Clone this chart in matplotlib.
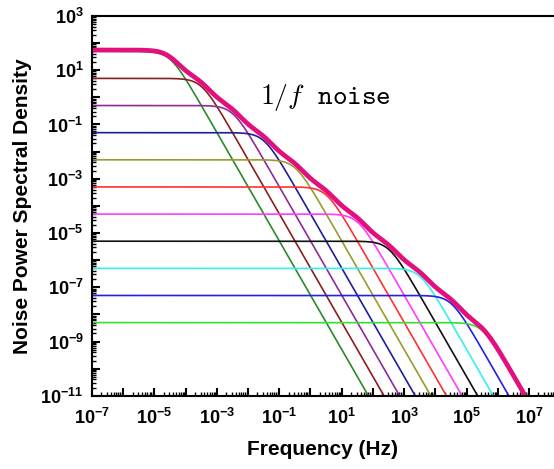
import numpy as np
import matplotlib.pyplot as plt
from matplotlib.ticker import LogLocator, FixedLocator, NullFormatter

# plateau levels and corner frequencies of each Lorentzian
levels = [50, 5, 0.5, 5e-2, 5e-3, 5e-4, 5e-5, 5e-6, 5e-7, 5e-8, 5e-9]
corners = [3.2e-5, 3.2e-4, 3.2e-3, 3.2e-2, 0.32, 3.2, 32, 320, 3.2e3, 3.2e4, 3.2e5]
colors = ['#2a8a2a', '#8b1e1e', '#8e2a9a', '#1e1e96', '#9a9a2e', '#ff3030',
          '#ff3cff', '#111111', '#33f0f0', '#2020e6', '#33e033']
sum_color = '#e2107c'

x_labels = [-7, -5, -3, -1, 1, 3, 5, 7]
y_labels = [3, 1, -1, -3, -5, -7, -9, -11]

plt.rcParams['mathtext.fontset'] = 'custom'
plt.rcParams['mathtext.rm'] = 'Liberation Sans'
plt.rcParams['mathtext.bf'] = 'Liberation Sans:bold'

fig = plt.figure(figsize=(5.54, 4.69), dpi=100)
ax = fig.add_axes([0.166, 0.156, 0.834, 0.810])

f = np.logspace(-7, 7.8, 3000)
total = np.zeros_like(f)
for a, fc, c in zip(levels, corners, colors):
    s = a / (1 + (f / fc) ** 2)
    total += s
    ax.plot(f, s, color=c, lw=1.2)
ax.plot(f, total, color=sum_color, lw=3.4, solid_capstyle='round')

ax.set_xscale('log')
ax.set_yscale('log')
ax.set_xlim(1e-7, 10 ** 7.8)
ax.set_ylim(1e-11, 1e3)

ax.xaxis.set_major_locator(FixedLocator([10.0 ** k for k in range(-7, 8)]))
ax.yaxis.set_major_locator(FixedLocator([10.0 ** k for k in range(-11, 4)]))
ax.xaxis.set_minor_locator(LogLocator(base=10, subs=np.arange(2, 10), numticks=100))
ax.yaxis.set_minor_locator(LogLocator(base=10, subs=np.arange(2, 10), numticks=100))
ax.xaxis.set_minor_formatter(NullFormatter())
ax.yaxis.set_minor_formatter(NullFormatter())

ax.set_xticklabels([r'$\mathbf{10^{%d}}$' % k if k in x_labels else '' for k in range(-7, 8)])
ax.set_yticklabels([r'$\mathbf{10^{%d}}$' % k if k in y_labels else '' for k in range(-11, 4)])

ax.tick_params(which='major', direction='in', length=6, width=1.5, labelsize=13)
ax.tick_params(axis='x', which='major', pad=9)
ax.tick_params(axis='y', which='major', pad=6)
ax.tick_params(which='minor', direction='in', length=3, width=1)
ax.tick_params(top=False, right=False)

for side in ['left', 'bottom', 'top']:
    ax.spines[side].set_linewidth(1.5)
ax.spines['right'].set_visible(False)

ax.set_xlabel('Frequency (Hz)', fontsize=15, fontweight='bold',
              family='Liberation Sans', labelpad=8)
ax.set_ylabel('Noise Power Spectral Density', fontsize=15, fontweight='bold',
              family='Liberation Sans', labelpad=6)

ax.text(3.0, 1.0, r'$1/f\ \ \mathtt{noise}$', fontsize=20,
        math_fontfamily='cm', ha='center', va='center')

fig.savefig('out.png', dpi=100)
